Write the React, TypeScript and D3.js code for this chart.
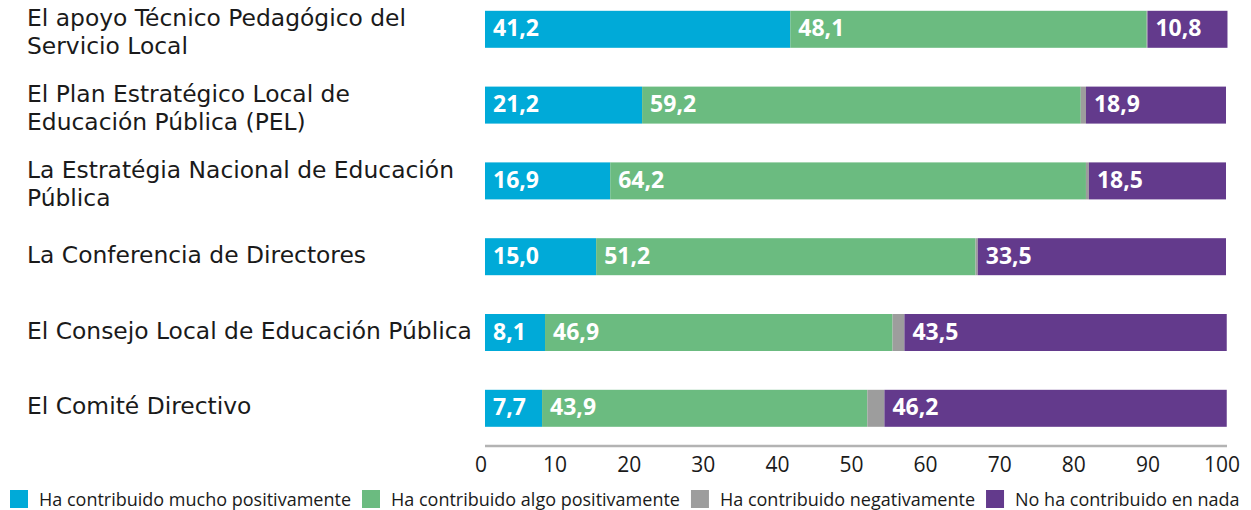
import React, { useRef, useEffect } from "react";
import * as d3 from "d3";

const categories = [
  "El apoyo Técnico Pedagógico del\nServicio Local",
  "El Plan Estratégico Local de\nEducación Pública (PEL)",
  "La Estratégia Nacional de Educación\nPública",
  "La Conferencia de Directores",
  "El Consejo Local de Educación Pública",
  "El Comité Directivo",
];
const seriesNames = [
  "Ha contribuido mucho positivamente",
  "Ha contribuido algo positivamente",
  "Ha contribuido negativamente",
  "No ha contribuido en nada",
];
const muchoPositivo = [41.2, 21.2, 16.9, 15.0, 8.1, 7.7];
const algoPositivo = [48.1, 59.2, 64.2, 51.2, 46.9, 43.9];
const negativo = [0.1, 0.7, 0.4, 0.3, 1.6, 2.3];
const nada = [10.8, 18.9, 18.5, 33.5, 43.5, 46.2];
const xTicks = [0, 10, 20, 30, 40, 50, 60, 70, 80, 90, 100];

const seriesColors = ["#00aad8", "#6bbb80", "#9d9d9d", "#633a8c"];
const showValue = [true, true, false, true];

const W = 1251;
const H = 510;
const FONT = "'Open Sans', sans-serif";
const LABEL_FONT = "'DejaVu Sans', sans-serif";

export default function App() {
  const ref = useRef<SVGSVGElement>(null);

  useEffect(() => {
    const svg = d3.select(ref.current);
    svg.selectAll("*").remove();

    const keys = seriesNames;
    const table = categories.map((c, i) => ({
      cat: c,
      [keys[0]]: muchoPositivo[i],
      [keys[1]]: algoPositivo[i],
      [keys[2]]: negativo[i],
      [keys[3]]: nada[i],
    }));
    const stacked = d3.stack<any>().keys(keys)(table);

    const x = d3.scaleLinear().domain([0, 100]).range([485, 1226]);
    const y = d3.scalePoint<string>().domain(categories).range([29.3, 408.3]);
    const barH = 37;
    const fmt = (v: number) => d3.format(".1f")(v).replace(".", ",");

    // bars
    stacked.forEach((s, si) => {
      const g = svg.append("g");
      g.selectAll("rect")
        .data(s)
        .join("rect")
        .attr("x", (d) => x(d[0]))
        .attr("y", (d) => (y(d.data.cat) as number) - barH / 2)
        .attr("width", (d) => Math.max(0, x(d[1]) - x(d[0])))
        .attr("height", barH)
        .attr("fill", seriesColors[si]);
      if (showValue[si]) {
        g.selectAll("text")
          .data(s)
          .join("text")
          .attr("x", (d) => x(d[0]) + 8)
          .attr("y", (d) => (y(d.data.cat) as number) + 7)
          .attr("fill", "#ffffff")
          .attr("font-family", FONT)
          .attr("font-weight", 700)
          .attr("font-size", 23)
          .text((d) => fmt(d[1] - d[0]));
      }
    });

    // category labels
    const lg = svg.append("g");
    categories.forEach((c) => {
      const lines = c.split("\n");
      const cy = y(c) as number;
      const first = lines.length > 1 ? cy - 3 : cy + 6;
      lines.forEach((ln, li) => {
        lg.append("text")
          .attr("x", 27)
          .attr("y", first + li * 28)
          .attr("font-family", LABEL_FONT)
          .attr("font-size", 23.4)
          .attr("fill", "#1a1a1a")
          .text(ln);
      });
    });

    // axis
    const axisY = 446;
    svg
      .append("line")
      .attr("x1", x(0))
      .attr("x2", x(100) + 1)
      .attr("y1", axisY)
      .attr("y2", axisY)
      .attr("stroke", "#b3b3b3")
      .attr("stroke-width", 2.5);
    svg
      .append("g")
      .selectAll("text")
      .data(xTicks)
      .join("text")
      .attr("x", (d) => x(d) - 4)
      .attr("y", 472)
      .attr("text-anchor", "middle")
      .attr("font-family", FONT)
      .attr("font-size", 21)
      .attr("fill", "#1a1a1a")
      .text((d) => String(d));

    // legend
    const leg = svg.append("g");
    let cx = 10;
    seriesNames.forEach((name, i) => {
      leg
        .append("rect")
        .attr("x", cx)
        .attr("y", 490)
        .attr("width", 18)
        .attr("height", 18)
        .attr("fill", seriesColors[i]);
      const t = leg
        .append("text")
        .attr("x", cx + 29)
        .attr("y", 505.5)
        .attr("font-family", FONT)
        .attr("font-size", 18)
        .attr("fill", "#1a1a1a")
        .text(name);
      const w = (t.node() as SVGTextElement).getComputedTextLength();
      cx = cx + 29 + w + 11;
    });
  }, []);

  return (
    <svg
      ref={ref}
      width={W}
      height={H}
      style={{ position: "absolute", left: 0, top: 0, background: "#fff" }}
    />
  );
}
